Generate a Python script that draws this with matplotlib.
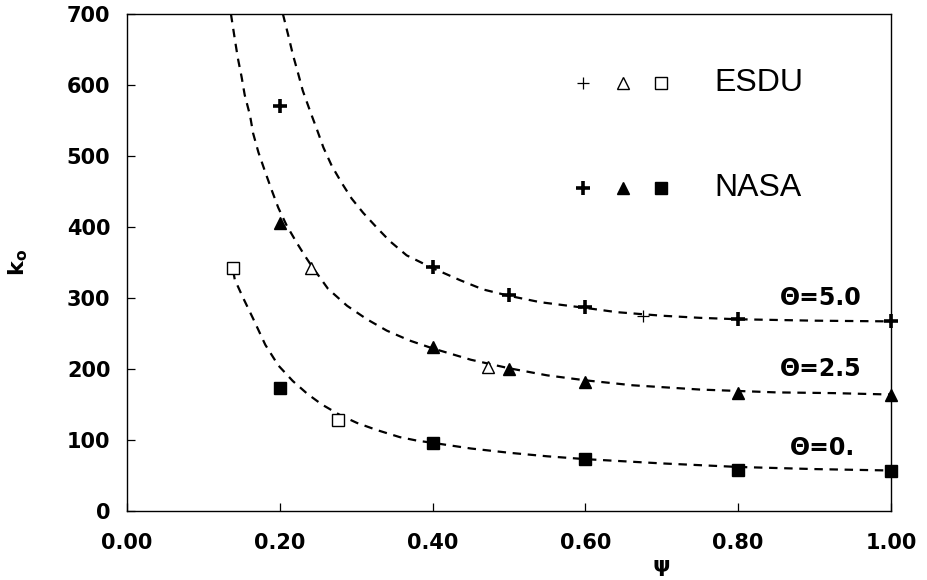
import matplotlib.pyplot as plt

# measured points (psi, k0)
nasa5_psi = [0.20, 0.40, 0.50, 0.60, 0.80, 1.00]
nasa5_k = [570, 343, 304, 287, 270, 267]
esdu5_psi = [0.675]
esdu5_k = [275]

nasa25_psi = [0.20, 0.40, 0.50, 0.60, 0.80, 1.00]
nasa25_k = [405, 231, 200, 182, 166, 163]
esdu25_psi = [0.241, 0.473]
esdu25_k = [342, 203]

nasa0_psi = [0.20, 0.40, 0.60, 0.80, 1.00]
nasa0_k = [173, 96, 73, 58, 56]
esdu0_psi = [0.139, 0.276]
esdu0_k = [342, 128]

# dashed fit curves
fit5_psi = [0.204, 0.211, 0.217, 0.224, 0.230, 0.240, 0.249, 0.257, 0.268, 0.281, 0.294,
            0.309, 0.327, 0.344, 0.366, 0.400, 0.436, 0.466, 0.500, 0.541, 0.600, 0.641,
            0.700, 0.750, 0.800, 0.900, 1.000]
fit5_k = [700, 670, 643, 616, 592, 562, 536, 512, 486, 462, 440,
          420, 399, 380, 360, 342, 325, 312, 303, 294, 286, 280,
          275, 272, 270, 268, 267]

fit25_psi = [0.136, 0.141, 0.145, 0.150, 0.154, 0.161, 0.165, 0.172, 0.181, 0.190, 0.198,
             0.209, 0.222, 0.233, 0.241, 0.263, 0.288, 0.314, 0.340, 0.370, 0.400, 0.450,
             0.500, 0.550, 0.600, 0.662, 0.750, 0.850, 0.924, 1.000]
fit25_k = [700, 665, 638, 611, 586, 557, 532, 505, 477, 450, 427,
           402, 378, 359, 346, 313, 289, 270, 254, 240, 229, 213,
           201, 191, 184, 177, 171, 167, 166, 164]

fit0_psi = [0.139, 0.141, 0.152, 0.165, 0.181, 0.198, 0.217, 0.236, 0.255, 0.279, 0.301,
            0.327, 0.357, 0.380, 0.400, 0.450, 0.500, 0.550, 0.600, 0.700, 0.800, 0.900, 1.000]
fit0_k = [338, 326, 300, 271, 234, 205, 183, 165, 150, 135, 124,
          114, 104, 99, 96, 88, 82, 77, 73, 67, 62, 59, 57]

theta_labels = ['\u0398=5.0', '\u0398=2.5', '\u0398=0.']
theta_pos = [(0.908, 300), (0.908, 200), (0.911, 89)]

fig = plt.figure(figsize=(9.28, 5.8), dpi=100)
ax = fig.add_axes([0.1369, 0.119, 0.8232, 0.857])

dash = dict(color='black', lw=1.6, dashes=(3.8, 3.0))
ax.plot(fit5_psi, fit5_k, **dash)
ax.plot(fit25_psi, fit25_k, **dash)
ax.plot(fit0_psi, fit0_k, **dash)

ms = 9
ax.plot(nasa5_psi, nasa5_k, 'k+', ms=ms + 1, mew=2.6, ls='none', clip_on=False)
ax.plot(esdu5_psi, esdu5_k, 'k+', ms=ms, mew=0.9, ls='none', clip_on=False)
ax.plot(nasa25_psi, nasa25_k, 'k^', ms=ms, ls='none', clip_on=False)
ax.plot(esdu25_psi, esdu25_k, '^', mfc='white', mec='black', mew=1.0, ms=ms, ls='none')
ax.plot(nasa0_psi, nasa0_k, 'ks', ms=ms - 0.5, ls='none', clip_on=False)
ax.plot(esdu0_psi, esdu0_k, 's', mfc='white', mec='black', mew=1.0, ms=ms, ls='none')

# hand-made legend
ax.plot([0.597], [603], 'k+', ms=ms, mew=0.9)
ax.plot([0.649], [603], '^', mfc='white', mec='black', mew=1.0, ms=ms)
ax.plot([0.699], [603], 's', mfc='white', mec='black', mew=1.0, ms=ms)
ax.text(0.769, 603, 'ESDU', fontsize=23, family='Liberation Sans', va='center', ha='left')
ax.plot([0.597], [455], 'k+', ms=ms + 1, mew=2.6)
ax.plot([0.649], [455], 'k^', ms=ms)
ax.plot([0.699], [455], 'ks', ms=ms - 0.5)
ax.text(0.769, 455, 'NASA', fontsize=23, family='Liberation Sans', va='center', ha='left')

for lab, (x, y) in zip(theta_labels, theta_pos):
    ax.text(x, y, lab, fontsize=17, fontweight='bold', ha='center', va='center')

ax.set_xlim(0, 1.0)
ax.set_ylim(0, 700)
ax.set_xticks([0.0, 0.2, 0.4, 0.6, 0.8, 1.0])
ax.set_xticklabels(['0.00', '0.20', '0.40', '0.60', '0.80', '1.00'])
ax.set_yticks(range(0, 701, 100))
ax.tick_params(direction='in', length=6, width=0.9)
ax.tick_params(axis='x', pad=16, labelsize=15)
ax.tick_params(axis='y', pad=12, labelsize=15)
for lab in ax.get_xticklabels() + ax.get_yticklabels():
    lab.set_fontweight('bold')
for sp in ax.spines.values():
    sp.set_linewidth(1.0)

ax.set_xlabel('\u03c8', fontsize=16, fontweight='bold', labelpad=0)
ax.xaxis.set_label_coords(0.70, -0.09)
ax.set_ylabel(r'$\mathbf{k}_\mathbf{o}$', fontsize=16, labelpad=0)
ax.yaxis.set_label_coords(-0.127, 0.5)

fig.savefig('out.png', dpi=100)
